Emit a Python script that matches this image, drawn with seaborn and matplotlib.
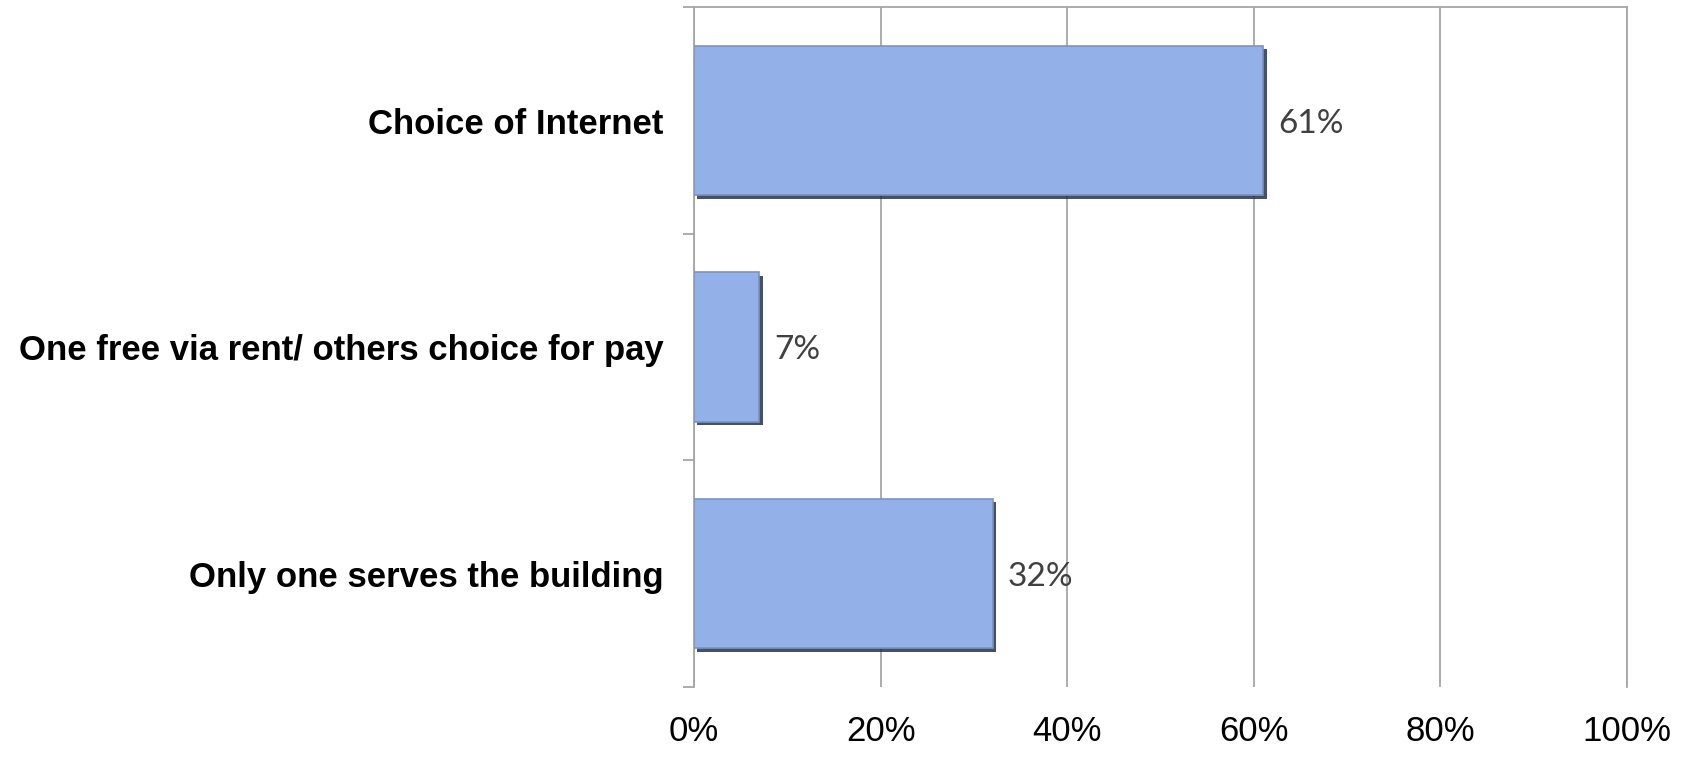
import matplotlib
matplotlib.use("Agg")
import matplotlib.pyplot as plt
import matplotlib.patheffects as pe
from matplotlib.ticker import FixedLocator, MultipleLocator, PercentFormatter
import seaborn as sns
import pandas as pd

# Survey responses: how residents get their Internet service
categories = [
    "Choice of Internet",
    "One free via rent/ others choice for pay",
    "Only one serves the building",
]
shares = [61, 7, 32]  # percent of respondents
value_labels = ["61%", "7%", "32%"]

df = pd.DataFrame({"category": categories, "share": shares})

sns.set_theme(style="white")
plt.rcParams["font.family"] = ["Liberation Sans", "DejaVu Sans"]

fig = plt.figure(figsize=(16.91, 7.57), dpi=100)
ax = fig.add_axes([0.4104, 0.0925, 0.9622 - 0.4104, 0.9901 - 0.0925])

sns.barplot(
    data=df, x="share", y="category", orient="h",
    color="#93B1E8", saturation=1, width=0.66,
    edgecolor="#7A93BC", linewidth=1.2, ax=ax, zorder=3,
)

# Beveled look: dark shadow on the right and lower edges of each bar
for patch in ax.patches:
    patch.set_path_effects([
        pe.SimplePatchShadow(offset=(2.5, -2.5), shadow_rgbFace="#25324C", alpha=0.85),
        pe.Normal(),
    ])

ax.set_xlim(0, 100)
ax.set_ylim(len(categories) - 0.5, -0.5)
ax.xaxis.set_major_locator(MultipleLocator(20))
ax.xaxis.set_major_formatter(PercentFormatter(decimals=0))
ax.grid(axis="x", color="#A6A6A6", linewidth=1.3, zorder=0)
ax.grid(axis="y", visible=False)
ax.set_axisbelow(True)

ax.set_xlabel("")
ax.set_ylabel("")

# Spines: frame on top/left, value gridline closes the right side
for side in ("top", "left", "right"):
    ax.spines[side].set_visible(True)
    ax.spines[side].set_color("#A6A6A6")
    ax.spines[side].set_linewidth(1.3)
ax.spines["bottom"].set_visible(False)

# Category tick marks sit between the bars
ax.yaxis.set_minor_locator(FixedLocator([i - 0.5 for i in range(len(categories) + 1)]))
ax.tick_params(axis="y", which="minor", left=True, length=8, width=1.3, color="#A6A6A6")
ax.tick_params(axis="y", which="major", left=False, length=0, pad=22)
ax.tick_params(axis="x", which="both", bottom=False, length=0, pad=20)

for lbl in ax.get_yticklabels():
    lbl.set_fontsize(25)
    lbl.set_fontweight("bold")
    lbl.set_color("black")

for lbl in ax.get_xticklabels():
    lbl.set_family(["Liberation Sans Narrow", "Liberation Sans", "DejaVu Sans"])
    lbl.set_fontsize(25)
    lbl.set_color("black")

# Value labels to the right of each bar
for patch, text in zip(ax.patches, value_labels):
    ax.annotate(
        text,
        xy=(patch.get_x() + patch.get_width(), patch.get_y() + patch.get_height() / 2),
        xytext=(11, -2), textcoords="offset points",
        ha="left", va="center", fontsize=24, color="#404040",
        family=["Lato", "DejaVu Sans"],
    )

fig.savefig("out.png", dpi=100, facecolor="white")
